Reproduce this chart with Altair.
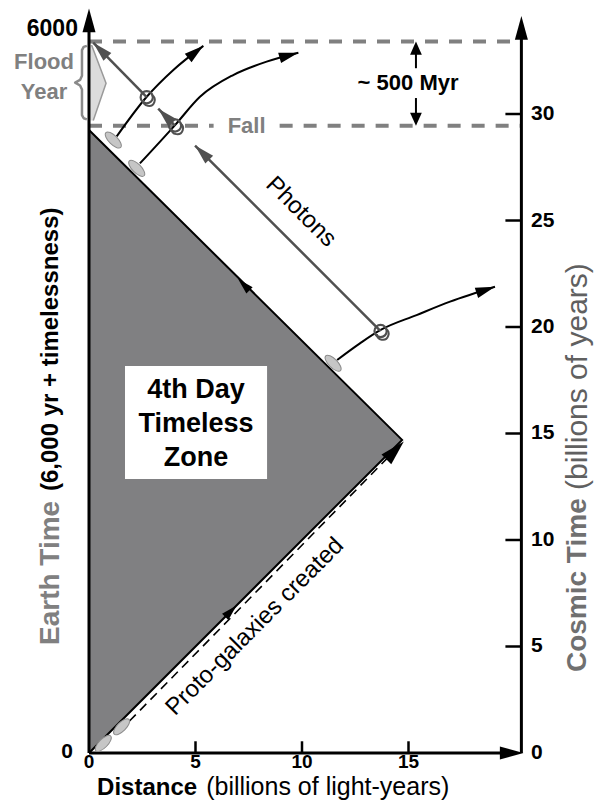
import math
import altair as alt
import pandas as pd

# ---------------- data (x: billions of light-years, y: billions of years) ----------------
X_DOMAIN = [-3.803, 23.756]
Y_DOMAIN = [-2.254, 34.977]

AXIS_RIGHT = 20.3
dist_ticks = [5, 10, 15]
dist_labels = [0, 5, 10, 15]
cosmic_ticks = [5, 10, 15, 20, 25, 30]
cosmic_labels = [0, 5, 10, 15, 20, 25, 30]
earth_labels = ["0", "6000"]
earth_label_y = [0.07, 34.0]

# Timeless-zone triangle
zone_x = [0.0, 14.7]
zone_lo = [0.0, 14.7]
zone_hi = [29.25, 14.7]
edge_x = [0.0, 14.7, 0.0]
edge_y = [0.0, 14.7, 29.25]

# White label box of the zone
box_x = [1.69, 8.36]
box_y = [12.86, 18.17]

# Horizontal dashed lines: top of Earth time and the Fall
top_line_y = 33.4
fall_line_y = 29.45
fall_gap = [5.85, 8.95]

# Proto-galaxies dashed path
proto_x = [1.9, 14.6]
proto_y = [1.5, 14.45]

# Galaxy world lines
curve1_x = [1.30, 2.71, 3.96, 5.37]
curve1_y = [28.95, 30.81, 32.07, 33.20]
curve2_x = [2.39, 4.04, 5.21, 6.77, 8.34, 9.83]
curve2_y = [27.68, 29.48, 30.81, 31.83, 32.46, 32.88]
curve3_x = [11.65, 12.72, 13.69, 15.38, 16.95, 19.06]
curve3_y = [18.45, 19.23, 19.86, 20.56, 21.19, 21.89]

# Photon path segments (start, tip)
photon_start_x = [13.69, 4.04, 2.71]
photon_start_y = [19.81, 29.46, 30.79]
photon_tip_x = [4.98, 3.25, 0.20]
photon_tip_y = [28.52, 30.25, 33.35]

# Galaxies (ellipses) and observation rings
galaxy_x = [0.67, 1.53, 1.14, 2.24, 11.46]
galaxy_y = [0.45, 1.23, 28.78, 27.45, 18.30]
galaxy_ang = [315, 315, 45, 45, 45]
ring_x = [2.71, 4.04, 13.69]
ring_y = [30.79, 29.46, 19.81]

# Flood year marker
kite_y = [33.24, 31.44, 29.70]
kite_x = [0.12, 0.80, 0.20]
brace_x = [-0.10, -0.25, -0.33, -0.33, -0.42, -0.65, -0.42, -0.33, -0.33, -0.25, -0.10]
brace_y = [33.20, 33.15, 33.00, 31.80, 31.60, 31.47, 31.34, 31.15, 29.95, 29.80, 29.75]

# ~500 Myr marker
myr_x = 15.35
myr_up = [32.15, 33.1]
myr_down = [30.75, 29.75]

FONT = "Liberation Sans, Arial, sans-serif"
ARROW = "M0,0L-0.55,2L0.55,2Z"
ARROW_WIDE = "M0,0L-0.9,2L0.9,2Z"
ELLIPSE = "M-1,0A1,0.42,0,1,1,1,0A1,0.42,0,1,1,-1,0Z"
HOOK = "M-0.5,0.4A0.8,0.8,0,1,0,0.7,-0.29"

# ---------------- helpers ----------------
XS = alt.Scale(domain=X_DOMAIN, nice=False, zero=False)
YS = alt.Scale(domain=Y_DOMAIN, nice=False, zero=False)


def X(f="x"):
    return alt.X(f"{f}:Q", scale=XS, axis=None)


def Y(f="y"):
    return alt.Y(f"{f}:Q", scale=YS, axis=None)


def heading(xs, ys):
    dx = xs[-1] - xs[-2]
    dy = ys[-1] - ys[-2]
    return math.degrees(math.atan2(dx, dy)) % 360


def text_layer(rows, size, weight="normal", color="black", align="center",
               baseline="middle", angle=0, **kw):
    df = pd.DataFrame(rows, columns=["x", "y", "t"])
    return alt.Chart(df).mark_text(font=FONT, fontSize=size, fontWeight=weight,
                                   color=color, align=align, baseline=baseline,
                                   angle=angle, **kw).encode(x=X(), y=Y(), text="t:N")


layers = []

# zone triangle
zone = pd.DataFrame({"x": zone_x, "y": zone_lo, "y2": zone_hi})
layers.append(alt.Chart(zone).mark_area(color="#808082", opacity=1).encode(
    x=X(), y=Y(), y2=alt.Y2("y2:Q")))
edge = pd.DataFrame({"x": edge_x, "y": edge_y, "i": range(3)})
layers.append(alt.Chart(edge).mark_line(color="black", strokeWidth=2).encode(
    x=X(), y=Y(), order="i:Q"))

# white box + zone text
box = pd.DataFrame({"x": [box_x[0]], "x2": [box_x[1]], "y": [box_y[0]], "y2": [box_y[1]]})
layers.append(alt.Chart(box).mark_rect(color="white").encode(
    x=X(), x2=alt.X2("x2:Q"), y=Y(), y2=alt.Y2("y2:Q")))
layers.append(text_layer([((box_x[0] + box_x[1]) / 2, 17.05, "4th Day\nTimeless\nZone")],
                         27, "bold", lineBreak="\n", lineHeight=34))

# Flood-year kite and brace
kite = pd.DataFrame({"y": kite_y, "x": kite_x, "x2": [0.06] * 3})
layers.append(alt.Chart(kite).mark_area(orient="horizontal", color="#dcdcdc", opacity=1).encode(
    y=Y(), x=X(), x2=alt.X2("x2:Q")))
kite_line = pd.DataFrame({"x": kite_x, "y": kite_y, "i": range(3)})
layers.append(alt.Chart(kite_line).mark_line(color="#9a9a9a", strokeWidth=1.5).encode(
    x=X(), y=Y(), order="i:Q"))
brace = pd.DataFrame({"x": brace_x, "y": brace_y, "i": range(len(brace_x))})
layers.append(alt.Chart(brace).mark_line(color="#8a8a8a", strokeWidth=2.5, strokeJoin="round").encode(
    x=X(), y=Y(), order="i:Q"))

# dashed horizontal lines
dashed = pd.DataFrame({
    "x": [0.0, 0.0, fall_gap[1]],
    "x2": [AXIS_RIGHT, fall_gap[0], AXIS_RIGHT],
    "y": [top_line_y, fall_line_y, fall_line_y],
})
layers.append(alt.Chart(dashed).mark_rule(color="#808080", strokeWidth=4, strokeDash=[13, 11]).encode(
    x=X(), x2=alt.X2("x2:Q"), y=Y()))

# proto-galaxies dashed line
proto = pd.DataFrame({"x": proto_x, "y": proto_y, "i": [0, 1]})
layers.append(alt.Chart(proto).mark_line(color="black", strokeWidth=1.6, strokeDash=[9, 6]).encode(
    x=X(), y=Y(), order="i:Q"))

# axes lines and ticks
axes = pd.DataFrame({
    "x": [0.0, 0.0, AXIS_RIGHT],
    "x2": [0.0, 19.9, AXIS_RIGHT],
    "y": [0.0, 0.0, 0.0],
    "y2": [34.2, 0.0, 33.9],
})
layers.append(alt.Chart(axes).mark_rule(color="black", strokeWidth=3).encode(
    x=X(), x2=alt.X2("x2:Q"), y=Y(), y2=alt.Y2("y2:Q")))
ticks = pd.DataFrame({
    "x": [float(v) for v in dist_ticks] + [AXIS_RIGHT - 0.75] * len(cosmic_ticks),
    "x2": [float(v) for v in dist_ticks] + [AXIS_RIGHT] * len(cosmic_ticks),
    "y": [0.0] * len(dist_ticks) + [float(v) for v in cosmic_ticks],
    "y2": [0.55] * len(dist_ticks) + [float(v) for v in cosmic_ticks],
})
layers.append(alt.Chart(ticks).mark_rule(color="black", strokeWidth=2.5).encode(
    x=X(), x2=alt.X2("x2:Q"), y=Y(), y2=alt.Y2("y2:Q")))

# galaxy world lines
curves = pd.DataFrame({
    "x": curve1_x + curve2_x + curve3_x,
    "y": curve1_y + curve2_y + curve3_y,
    "seg": ["c1"] * len(curve1_x) + ["c2"] * len(curve2_x) + ["c3"] * len(curve3_x),
    "i": list(range(len(curve1_x))) + list(range(len(curve2_x))) + list(range(len(curve3_x))),
})
layers.append(alt.Chart(curves).mark_line(color="black", strokeWidth=2, interpolate="monotone").encode(
    x=X(), y=Y(), detail="seg:N", order="i:Q"))

# photon paths
ph_rows = []
for k in range(len(photon_start_x)):
    ph_rows.append({"x": photon_start_x[k], "y": photon_start_y[k], "seg": k, "i": 0})
    ph_rows.append({"x": photon_tip_x[k], "y": photon_tip_y[k], "seg": k, "i": 1})
photons = pd.DataFrame(ph_rows)
layers.append(alt.Chart(photons).mark_line(color="#505050", strokeWidth=2.5).encode(
    x=X(), y=Y(), detail="seg:N", order="i:Q"))

# galaxies
gal = pd.DataFrame({"x": galaxy_x, "y": galaxy_y, "ang": galaxy_ang})
layers.append(alt.Chart(gal).mark_point(shape=ELLIPSE, filled=True, fill="#c6c6c6", stroke="#8c8c8c",
                                        strokeWidth=1, opacity=1, size=440).encode(
    x=X(), y=Y(), angle=alt.Angle("ang:Q", scale=None)))

# rings
rings = pd.DataFrame({"x": ring_x, "y": ring_y})
layers.append(alt.Chart(rings).mark_point(shape="circle", filled=False, color="#505050",
                                          strokeWidth=2.2, opacity=1, size=150).encode(x=X(), y=Y()))
layers.append(alt.Chart(rings).mark_point(shape=HOOK, filled=False, color="#505050",
                                          strokeWidth=2, opacity=1, size=210).encode(x=X(), y=Y()))

# arrowheads
arrow_rows = [
    (0.0, 34.95, 0, 560, "black"),
    (AXIS_RIGHT, 34.6, 0, 560, "black"),
    (20.4, 0.0, 90, 560, "black"),
    (curve1_x[-1], curve1_y[-1], heading(curve1_x, curve1_y), 380, "black"),
    (curve2_x[-1], curve2_y[-1], heading(curve2_x, curve2_y), 380, "black"),
    (curve3_x[-1], curve3_y[-1], heading(curve3_x, curve3_y), 380, "black"),
    (14.78, 14.62, heading(proto_x, proto_y), 620, "black"),
    (6.93, 6.93, 45, 260, "black"),
    (7.0, 22.25, 315, 260, "black"),
]
for k in range(len(photon_tip_x)):
    arrow_rows.append((photon_tip_x[k], photon_tip_y[k], 315, 400, "#505050"))
arrows = pd.DataFrame(arrow_rows, columns=["x", "y", "ang", "sz", "col"])
layers.append(alt.Chart(arrows).mark_point(shape=ARROW, filled=True, opacity=1, strokeWidth=0).encode(
    x=X(), y=Y(), angle=alt.Angle("ang:Q", scale=None), size=alt.Size("sz:Q", scale=None),
    color=alt.Color("col:N", scale=None)))

myr_lines = pd.DataFrame({"x": [myr_x, myr_x], "y": [myr_up[0], myr_down[0]], "y2": [myr_up[1], myr_down[1]]})
layers.append(alt.Chart(myr_lines).mark_rule(color="black", strokeWidth=2).encode(
    x=X(), y=Y(), y2=alt.Y2("y2:Q")))
myr_heads = pd.DataFrame({"x": [myr_x, myr_x], "y": [top_line_y, fall_line_y], "ang": [0, 180]})
layers.append(alt.Chart(myr_heads).mark_point(shape=ARROW_WIDE, filled=True, opacity=1, strokeWidth=0,
                                              color="black", size=170).encode(
    x=X(), y=Y(), angle=alt.Angle("ang:Q", scale=None)))

# ---------------- texts ----------------
layers.append(text_layer([(float(v), -0.4, str(v)) for v in dist_labels], 19, "bold"))
layers.append(text_layer([(20.75, float(v), str(v)) for v in cosmic_labels], 21, "bold", align="left"))
layers.append(text_layer([(-0.75, earth_label_y[0], earth_labels[0])], 21, "bold", align="right"))
layers.append(text_layer([(-0.52, earth_label_y[1], earth_labels[1])], 23, "bold", align="right"))

layers.append(text_layer([(0.38, -1.99, "Distance")], 24, "bold", align="left", baseline="alphabetic"))
layers.append(text_layer([(5.5, -1.99, "(billions of light-years)")], 25, align="left", baseline="alphabetic"))

layers.append(text_layer([(-1.78, 5.07, "Earth Time")], 28, "bold", color="#808080", align="left", angle=270))
layers.append(text_layer([(-1.78, 12.3, "(6,000 yr + timelessness)")], 24, "bold", align="left", angle=270))

layers.append(text_layer([(22.96, 3.8, "Cosmic Time")], 28, "bold", color="#707070", align="left", angle=270))
layers.append(text_layer([(22.96, 12.35, "(billions of years)")], 30, color="#606060", align="left", angle=270))

layers.append(text_layer([(7.4, fall_line_y, "Fall")], 22, "bold", color="#808080"))
layers.append(text_layer([(14.98, 31.44, "~ 500 Myr")], 22, "bold"))
layers.append(text_layer([(-2.11, 32.46, "Flood"), (-2.11, 31.05, "Year")], 22, "bold", color="#808080"))
layers.append(text_layer([(7.79, 5.93, "Proto-galaxies created")], 24, angle=315))
layers.append(text_layer([(9.95, 25.4, "Photons")], 24, angle=45))

chart = alt.layer(*layers).properties(
    width=587, height=793, padding=0, background="white",
    autosize=alt.AutoSizeParams(type="none", contains="padding"),
).configure_view(stroke="transparent")

chart.save("out.html", embed_options={"renderer": "svg", "actions": False})
